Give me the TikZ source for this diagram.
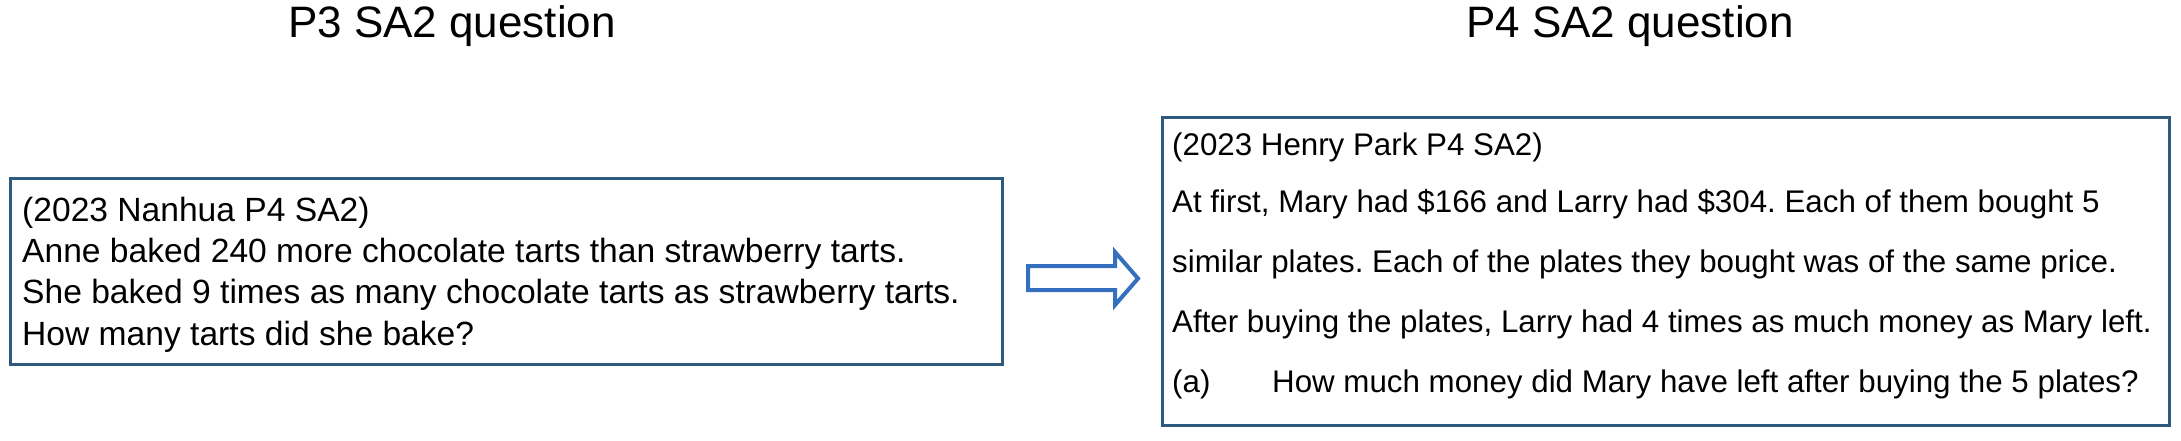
\documentclass[tikz,border=0pt]{standalone}
\usepackage{fontspec}
\setmainfont{Liberation Sans}
\definecolor{boxcol}{HTML}{2F5A7E}
\definecolor{arrcol}{HTML}{3470BE}
\begin{document}
\frenchspacing
\begin{tikzpicture}[x=1pt,y=-1pt,
  titletext/.style={font=\fontsize{44pt}{52pt}\selectfont, anchor=base, inner sep=0pt},
  ltext/.style={font=\fontsize{33.6pt}{40pt}\selectfont, anchor=base west, inner sep=0pt},
  rtext/.style={font=\fontsize{31.3pt}{38pt}\selectfont, anchor=base west, inner sep=0pt},
  qbox/.style={draw=boxcol, line width=3pt, inner sep=0pt, outer sep=0pt, anchor=north west},
  blockarrow/.style={draw=arrcol, line width=4pt, fill=white, line join=miter}]
\useasboundingbox (0,0) rectangle (2181,441);
% titles
\node[titletext] (t1) at (452,38) {P3 SA2 question};
\node[titletext] (t2) at (1630,38) {P4 SA2 question};
% boxes
\node[qbox, minimum width=992pt, minimum height=186pt] (lbox) at (10.5,178.5) {};
\node[qbox, minimum width=1007pt, minimum height=308pt] (rbox) at (1162.5,117.5) {};
% left text
\node[ltext] (l1) at (22,221) {(2023 Nanhua P4 SA2)};
\node[ltext] (l2) at (22,262) {Anne baked 240 more chocolate tarts than strawberry tarts.};
\node[ltext] (l3) at (22,303) {She baked 9 times as many chocolate tarts as strawberry tarts.};
\node[ltext] (l4) at (22,345) {How many tarts did she bake?};
% right text
\node[rtext] (r1) at (1172,155) {(2023 Henry Park P4 SA2)};
\node[rtext] (r2) at (1172,212) {At first, Mary had \$166 and Larry had \$304. Each of them bought 5};
\node[rtext] (r3) at (1172,272) {similar plates. Each of the plates they bought was of the same price.};
\node[rtext] (r4) at (1172,332) {After buying the plates, Larry had 4 times as much money as Mary left.};
\node[rtext] (r5a) at (1172,392) {(a)};
\node[rtext] (r5b) at (1272,392) {How much money did Mary have left after buying the 5 plates?};
% block arrow
\draw[blockarrow] (1028,266) -- (1115,266) -- (1115,252) -- (1138,278.5) -- (1115,305) -- (1115,290) -- (1028,290) -- cycle;
\end{tikzpicture}
\end{document}
